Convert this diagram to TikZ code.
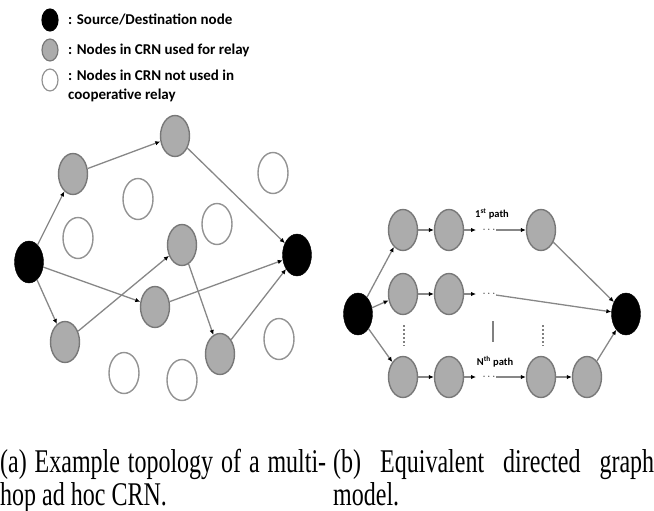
\documentclass[tikz,border=0pt]{standalone}
\usepackage{fontspec}
\setmainfont{Liberation Serif}
\newfontfamily\keyfont{Carlito}
\usetikzlibrary{shapes.geometric,arrows.meta}
\definecolor{relayfill}{RGB}{172,172,172}
\definecolor{rimgray}{RGB}{120,120,120}
\definecolor{edgegray}{RGB}{135,135,135}
\newcommand{\captext}[2]{\scalebox{1}[1.38]{\parbox[t]{#1}{\fontsize{24}{24}\selectfont #2}}}
\begin{document}
\begin{tikzpicture}[x=1pt,y=-1pt,
  sd/.style={ellipse, draw=black, fill=black, minimum width=29pt, minimum height=42pt, inner sep=0pt},
  relay/.style={ellipse, draw=rimgray, line width=1.4pt, fill=relayfill, minimum width=29pt, minimum height=41pt, inner sep=0pt},
  idle/.style={ellipse, draw=rimgray!80, line width=1.4pt, fill=white, minimum width=30pt, minimum height=41pt, inner sep=0pt},
  keysize/.style={minimum width=16pt, minimum height=22pt, line width=1.2pt},
  keytext/.style={font=\keyfont\bfseries\fontsize{15}{19}\selectfont, inner sep=0pt, anchor=west},
  pathtext/.style={font=\keyfont\bfseries\fontsize{10.5}{12}\selectfont, inner sep=0pt},
  dotstext/.style={font=\fontsize{11}{12}\selectfont, inner sep=0.5pt},
  hop/.style={draw=edgegray, line width=1.3pt, -{Latex[length=5pt,width=4.5pt,black]}},
  caption/.style={inner sep=0pt, anchor=base west}]
\useasboundingbox (0,0) rectangle (654,511);
% legend
\node[sd, keysize] (keysd) at (50,20){};
\node[relay, keysize] (keyrelay) at (50,50){};
\node[idle, keysize] (keyidle) at (50,80){};
\node[keytext] (txtsd) at (68,20){: Source/Destination node};
\node[keytext] (txtrelay) at (68,50){: Nodes in CRN used for relay};
\node[keytext, anchor=north west, align=left] (txtidle) at (68,70){: Nodes in CRN not used in\\cooperative relay};
% (a) topology
\node[sd] (src) at (29,262){};
\node[sd] (dst) at (297,255){};
\node[relay] (g1) at (73,174){};
\node[relay] (g2) at (175,136){};
\node[relay] (g3) at (182,245){};
\node[relay] (g4) at (155,307){};
\node[relay] (g5) at (65,342){};
\node[relay] (g6) at (220,354){};
\node[idle] (w1) at (138,199){};
\node[idle] (w2) at (78,238){};
\node[idle] (w3) at (273,173){};
\node[idle] (w4) at (217,224){};
\node[idle] (w5) at (279,339){};
\node[idle] (w6) at (124,373){};
\node[idle] (w7) at (182,380){};
\draw[hop](src) -- (g1);
\draw[hop](g1) -- (g2);
\draw[hop](g2) -- (dst);
\draw[hop](src) -- (g4);
\draw[hop](src) -- (g5);
\draw[hop](g5) -- (g3);
\draw[hop](g3) -- (g6);
\draw[hop](g4) -- (dst);
\draw[hop](g6) -- (dst);
% (b) directed graph
\node[sd] (s) at (358,314){};
\node[sd] (d) at (626,314){};
\node[relay] (r1a) at (403,230){};
\node[relay] (r1b) at (449,230){};
\node[relay] (r1c) at (541,230){};
\node[relay] (r2a) at (403,294){};
\node[relay] (r2b) at (449,294){};
\node[relay] (r3a) at (403,377){};
\node[relay] (r3b) at (449,377){};
\node[relay] (r3c) at (541,377){};
\node[relay] (r3d) at (587,377){};
\coordinate (e1) at (476,230);
\coordinate (e2) at (476,294);
\coordinate (e3) at (476,377);
\node[dotstext] (dots1) at (489,230){$\cdots$};
\node[dotstext] (dots2) at (489,294){$\cdots$};
\node[dotstext] (dots3) at (489,377){$\cdots$};
\node[pathtext] (lbl1) at (492,214){1\textsuperscript{st} path};
\node[pathtext] (lbl3) at (495,362){N\textsuperscript{th} path};
\draw[hop](s) -- (r1a);
\draw[hop](s) -- (r2a);
\draw[hop](s) -- (r3a);
\draw[hop](r1a) -- (r1b);
\draw[hop](r1b) -- (e1);
\draw[hop](dots1) -- (r1c);
\draw[hop](r1c) -- (d);
\draw[hop](r2a) -- (r2b);
\draw[hop](r2b) -- (e2);
\draw[hop](dots2) -- (d);
\draw[hop](r3a) -- (r3b);
\draw[hop](r3b) -- (e3);
\draw[hop](dots3) -- (r3c);
\draw[hop](r3c) -- (r3d);
\draw[hop](r3d) -- (d);
\draw[line width=1.6pt, gray, dash pattern=on 2pt off 2pt] (404,325) -- (404,346);
\draw[line width=1.3pt, gray] (493,321) -- (493,342);
\draw[line width=1.6pt, gray, dash pattern=on 2pt off 2pt] (543,325) -- (543,346);
% captions
\node[caption] (capa) at (0,472){\captext{326pt}{(a) Example topology of a multi-\linebreak hop ad hoc CRN.}};
\node[caption] (capb) at (333,472){\captext{321pt}{(b) Equivalent directed graph\linebreak model.}};
\end{tikzpicture}
\end{document}
